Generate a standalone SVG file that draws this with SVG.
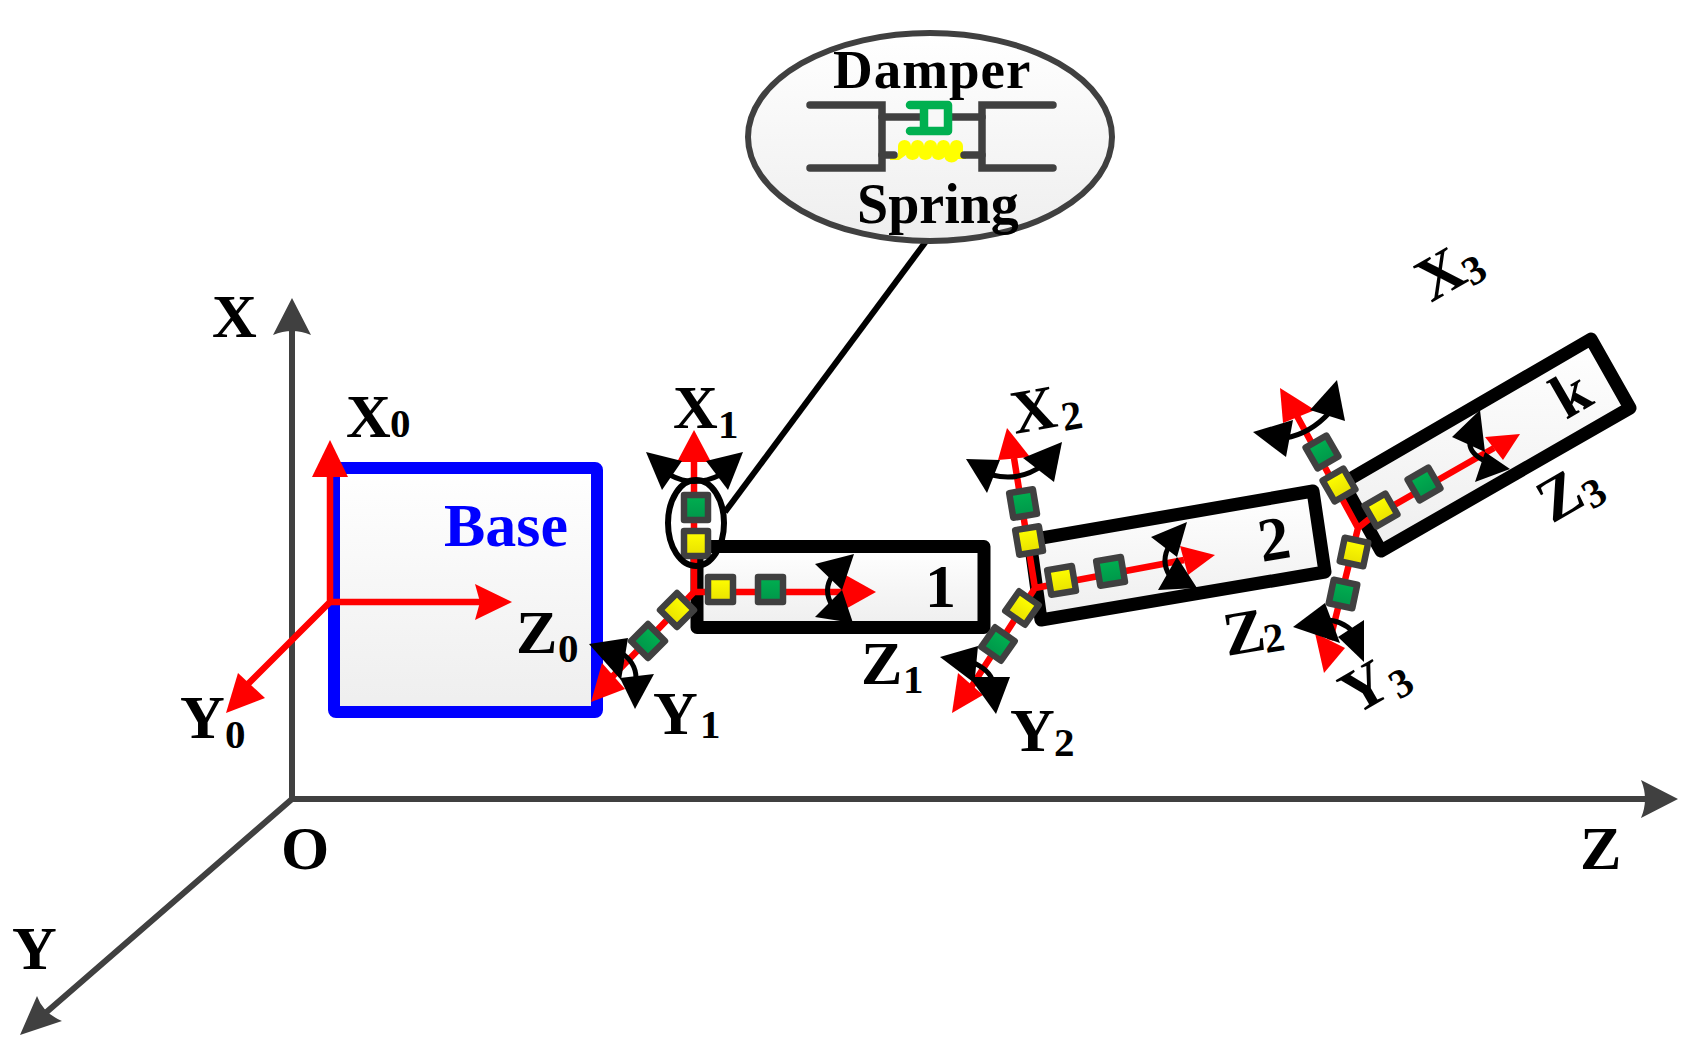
<svg xmlns="http://www.w3.org/2000/svg" width="1693" height="1056" viewBox="0 0 1693 1056">
<style>
text{font-family:"Liberation Serif","Times New Roman",serif;font-weight:700;fill:#000}
.l{font-size:62px}.s{font-size:41px}
.axis{stroke:#404040;stroke-width:6;fill:none}
.axh{fill:#404040}
.r{stroke:#f00;stroke-width:6.5;fill:none}
.rh{fill:#f00}
.arc{stroke:#000;stroke-width:5;fill:none}
.ah{fill:#000}
.link{fill:url(#gr);stroke:#000;stroke-width:13;stroke-linejoin:round}
.g{fill:url(#gg);stroke:#404040;stroke-width:6.5;stroke-linejoin:round}
.y{fill:url(#gy);stroke:#404040;stroke-width:6.5;stroke-linejoin:round}
.m{stroke:#404040;stroke-width:7.5;fill:none;stroke-linecap:round;stroke-linejoin:miter}
</style>
<defs>
<linearGradient id="gr" x1="0" y1="0" x2="0" y2="1"><stop offset="0" stop-color="#fff"/><stop offset="1" stop-color="#eee"/></linearGradient>
<linearGradient id="gg" x1="0" y1="0" x2="0" y2="1"><stop offset="0" stop-color="#00b050"/><stop offset="1" stop-color="#00964a"/></linearGradient>
<linearGradient id="gy" x1="0" y1="0" x2="0" y2="1"><stop offset="0" stop-color="#ff0"/><stop offset="1" stop-color="#e8e000"/></linearGradient>
</defs>

<g id="axes">
<path class="axis" d="M292 799V330M292 799H1645M292 799L42 1016"/>
<path class="axh" d="M292 298L311 335Q292 327 273 335Z"/>
<path class="axh" d="M1678 799L1641 818Q1649 799 1641 780Z"/>
<path class="axh" d="M20 1035L37 996Q43 1013 62 1021Z"/>
<text class="l" x="212" y="337">X</text>
<text class="l" x="281" y="869">O</text>
<text class="l" x="1580" y="869">Z</text>
<text class="l" x="12" y="969">Y</text>
</g>

<g id="base">
<rect x="334" y="468" width="263" height="244" rx="2" fill="url(#gr)" stroke="#00f" stroke-width="12" stroke-linejoin="round"/>
<text class="l" x="444" y="546" style="fill:#00f">Base</text>
</g>

<g id="link1">
<rect class="link" x="697" y="546.5" width="287" height="81"/>
<text class="l" x="925" y="607">1</text>
</g>
<g id="link2">
<path class="link" d="M1030 540L1313 491L1325 572L1041 620Z"/>
<text class="l" x="1262" y="562" transform="rotate(-9.5 1262 562)">2</text>
</g>
<g id="linkk">
<path class="link" d="M1343 483L1591 339L1630 408L1381 551Z"/>
<text class="l" x="1566" y="420" transform="rotate(-30 1566 420)">k</text>
</g>

<g id="connectors">
<path d="M725 512L930 236" stroke="#000" stroke-width="6" fill="none"/>
<!-- frame 0 -->
<path class="r" d="M330 602V470M330 602H485M330 602L240 692"/>
<path class="rh" d="M330 440L348 477H312Z"/>
<path class="rh" d="M512 602L475 584L480 602L475 620Z"/>
<path class="rh" d="M226 713L238 673L265 698Z"/>
<!-- frame 1 -->
<path class="r" d="M694 592V460M694 592H845M694 592L612 677"/>
<path class="rh" d="M694 430L711 462H677Z"/>
<path class="rh" d="M876 592L842 573V611Z"/>
<path class="rh" d="M591 702L602 663L625 689Z"/>
<!-- frame 2 -->
<path class="r" d="M1035 588L1014 458M1035 588L1184 560M1035 588L968 692"/>
<path class="rh" d="M1007 428L998 460L1030 457Z"/>
<path class="rh" d="M1215 555L1180 546L1188 575Z"/>
<path class="rh" d="M952 713L958 673L983 695Z"/>
<!-- frame 3 -->
<path class="r" d="M1358 528L1297 416M1358 528L1368 520L1494 448M1358 528L1330 640"/>
<path class="rh" d="M1280 388L1283 423L1315 410Z"/>
<path class="rh" d="M1520 434L1485 437L1503 460Z"/>
<path class="rh" d="M1324 673L1315 633L1345 648Z"/>
</g>

<g id="joint1">
<rect class="g" x="-12" y="-12" width="24" height="25" transform="translate(696 507)"/>
<rect class="y" x="-12" y="-12" width="24" height="25" transform="translate(696 543)"/>
<rect class="y" x="-12" y="-12" width="25" height="25" transform="translate(720 589)"/>
<rect class="g" x="-12" y="-12" width="25" height="25" transform="translate(770 589)"/>
<rect class="y" x="-12" y="-12" width="24" height="24" transform="translate(677 610) rotate(45)"/>
<rect class="g" x="-12" y="-12" width="24" height="24" transform="translate(648 641) rotate(45)"/>
<ellipse cx="696" cy="523" rx="28" ry="43" fill="none" stroke="#000" stroke-width="6"/>
<path class="arc" d="M670 475Q694 488 720 475"/>
<path class="ah" d="M646 452L682 461L662 490Z"/>
<path class="ah" d="M743 452L706 461L728 490Z"/>
<path class="arc" d="M833 575Q822 590 833 607"/>
<path class="ah" d="M854 554L815 564L842 590L853 623L815 617L842 590Z"/>
<path class="arc" d="M620 652Q636 662 636 678"/>
<path class="ah" d="M589 644L628 638L621 680Z"/>
<path class="ah" d="M635 709L654 674L620 678Z"/>
</g>

<g id="joint2">
<rect class="g" x="-12" y="-12" width="24" height="25" transform="translate(1023 503) rotate(-9.5)"/>
<rect class="y" x="-12" y="-12" width="24" height="25" transform="translate(1029 540) rotate(-9.5)"/>
<rect class="y" x="-12" y="-12" width="25" height="25" transform="translate(1061 580) rotate(-9.5)"/>
<rect class="g" x="-12" y="-12" width="25" height="25" transform="translate(1110 571) rotate(-9.5)"/>
<rect class="y" x="-12" y="-12" width="24" height="24" transform="translate(1022 608) rotate(35)"/>
<rect class="g" x="-12" y="-12" width="24" height="24" transform="translate(998 644) rotate(35)"/>
<path class="arc" d="M992 475Q1020 482 1043 465"/>
<path class="ah" d="M966 459L1000 460L987 493Z"/>
<path class="ah" d="M1062 442L1023 458L1054 482Z"/>
<path class="arc" d="M1168 548Q1160 565 1173 580"/>
<path class="ah" d="M1187 522L1151 537L1177 557L1197 588L1158 590L1177 557Z"/>
<path class="arc" d="M972 662Q990 670 993 682"/>
<path class="ah" d="M940 657L978 646L975 677L1010 677L996 714L973 682Z"/>
</g>

<g id="joint3">
<rect class="g" x="-12" y="-12" width="24" height="24" transform="translate(1322 452) rotate(-30)"/>
<rect class="y" x="-12" y="-12" width="24" height="24" transform="translate(1339 485) rotate(-30)"/>
<rect class="y" x="-12" y="-12" width="24" height="24" transform="translate(1381 510) rotate(-30)"/>
<rect class="g" x="-12" y="-12" width="24" height="24" transform="translate(1424 484) rotate(-30)"/>
<rect class="y" x="-12" y="-12" width="24" height="24" transform="translate(1354 552) rotate(12)"/>
<rect class="g" x="-12" y="-12" width="24" height="24" transform="translate(1343 594) rotate(12)"/>
<path class="arc" d="M1285 438Q1310 434 1330 412"/>
<path class="ah" d="M1253 432L1293 420L1286 457Z"/>
<path class="ah" d="M1337 380L1310 410L1345 421Z"/>
<path class="arc" d="M1470 440Q1468 452 1483 460"/>
<path class="ah" d="M1480 410L1452 437L1485 452L1510 469L1475 482L1485 452Z"/>
<path class="arc" d="M1325 620Q1342 620 1353 632"/>
<path class="ah" d="M1293 627L1325 603L1340 643Z"/>
<path class="ah" d="M1364 662L1364 620L1338 637Z"/>
</g>

<g id="callout">
<ellipse cx="930" cy="137" rx="182" ry="104" fill="url(#gr)" stroke="#404040" stroke-width="6"/>
<path class="m" d="M810 105H882V168H810M1053 105H982V168H1053"/>
<path class="m" d="M882 117H982" stroke-linecap="butt"/>
<path d="M890 156L898 156L898 146A6.5 6 0 0 1 911 146A6.5 6 0 0 1 924 146A6.5 6 0 0 1 937 146A6.5 6 0 0 1 950 146A6.5 6 0 0 1 963 146L963 156L966 156L966 159L958 159A6.5 5 0 0 1 945 155A6.5 5 0 0 1 932 155A6.5 5 0 0 1 919 155A6.5 5 0 0 1 906 155L899 160L890 160Z" fill="#ff0"/>
<path class="m" d="M882 155H894M982 155H964"/>
<rect x="924" y="105" width="24" height="26" fill="#f8f8f8"/>
<path d="M910 105H948V131H910M924 105V131" stroke="#00b050" stroke-width="8.5" fill="none" stroke-linecap="round" stroke-linejoin="round"/>
<text x="833" y="88" style="font-size:55px;letter-spacing:1px">Damper</text>
<text x="857" y="223" style="font-size:56px">Spring</text>
</g>

<g id="labels">
<text class="l" x="346" y="437">X</text><text class="s" x="390" y="437">0</text>
<text class="l" x="516" y="653">Z</text><text class="s" x="558" y="662">0</text>
<text class="l" x="180" y="738">Y</text><text class="s" x="225" y="748">0</text>
<text class="l" x="673" y="428">X</text><text class="s" x="718" y="438">1</text>
<text class="l" x="653" y="734">Y</text><text class="s" x="700" y="738">1</text>
<text class="l" x="861" y="684">Z</text><text class="s" x="903" y="693">1</text>
<text class="l" x="1015" y="434" transform="rotate(-10 1015 434)">X</text><text class="s" x="1064" y="431" transform="rotate(-10 1064 431)">2</text>
<text class="l" x="1010" y="751">Y</text><text class="s" x="1054" y="756">2</text>
<text class="l" x="1227" y="656" transform="rotate(-9.5 1227 656)">Z</text><text class="s" x="1266" y="653" transform="rotate(-9.5 1266 653)">2</text>
<text class="l" x="1431" y="303" transform="rotate(-30 1431 303)">X</text><text class="s" x="1472" y="287" transform="rotate(-30 1472 287)">3</text>
<text class="l" x="1355" y="716" transform="rotate(-30 1355 716)">Y</text><text class="s" x="1399" y="700" transform="rotate(-30 1399 700)">3</text>
<text class="l" x="1552" y="524" transform="rotate(-30 1552 524)">Z</text><text class="s" x="1592" y="510" transform="rotate(-30 1592 510)">3</text>
</g>
</svg>
